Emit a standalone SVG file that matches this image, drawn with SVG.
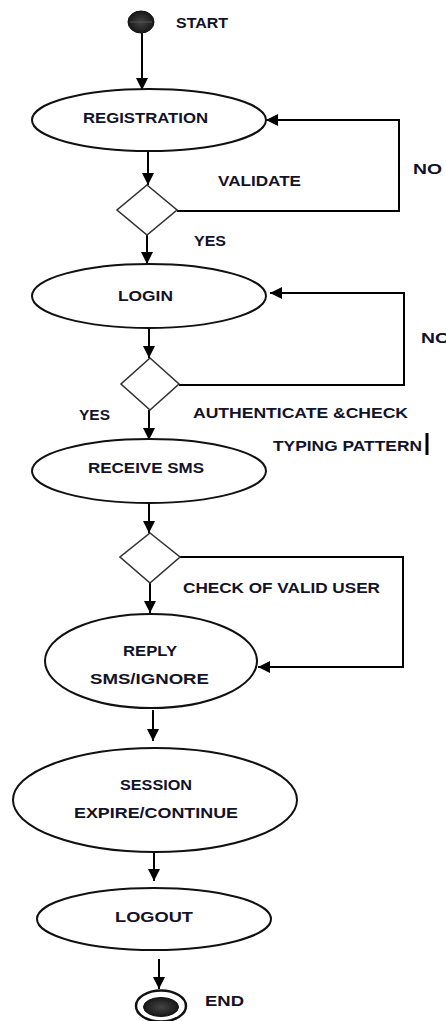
<svg xmlns="http://www.w3.org/2000/svg" width="446" height="1021" viewBox="0 0 446 1021">
<style>
  .node { fill: #ffffff; stroke: #111; stroke-width: 2; }
  .dec { fill: #ffffff; stroke: #333; stroke-width: 1.6; }
  .conn { fill: none; stroke: #000; stroke-width: 2; }
  .lbl { font-family: "Liberation Sans", Arial, sans-serif; font-weight: bold; font-size: 15.5px; fill: #121228; }
</style>
<defs>
  <marker id="arr" markerUnits="userSpaceOnUse" markerWidth="12" markerHeight="12" refX="12" refY="6" orient="auto">
    <path d="M0,0 L12,6 L0,12 z" fill="#000"/>
  </marker>
  <radialGradient id="startGrad" cx="50%" cy="50%" r="55%">
    <stop offset="0" stop-color="#444"/>
    <stop offset="0.7" stop-color="#222"/>
    <stop offset="1" stop-color="#111"/>
  </radialGradient>
</defs>
<rect width="446" height="1021" fill="#ffffff"/>

<g id="connectors">
  <line class="conn" x1="142" y1="33" x2="142" y2="90" marker-end="url(#arr)"/>
  <line class="conn" x1="148" y1="151" x2="148" y2="185" marker-end="url(#arr)"/>
  <polyline class="conn" points="177,211 399,211 399,120 266,120" marker-end="url(#arr)"/>
  <line class="conn" x1="147" y1="235" x2="147" y2="264" marker-end="url(#arr)"/>
  <polyline class="conn" points="179,385 404,385 404,293 270,293" marker-end="url(#arr)"/>
  <line class="conn" x1="149" y1="328" x2="149" y2="358" marker-end="url(#arr)"/>
  <line class="conn" x1="149" y1="410" x2="149" y2="440" marker-end="url(#arr)"/>
  <line class="conn" x1="149" y1="503" x2="149" y2="533" marker-end="url(#arr)"/>
  <polyline class="conn" points="180,557 403,557 403,667 258,667" marker-end="url(#arr)"/>
  <line class="conn" x1="150" y1="583" x2="150" y2="613" marker-end="url(#arr)"/>
  <line class="conn" x1="153" y1="710" x2="153" y2="741" marker-end="url(#arr)"/>
  <line class="conn" x1="154" y1="852" x2="154" y2="881" marker-end="url(#arr)"/>
  <line class="conn" x1="159" y1="959" x2="159" y2="989" marker-end="url(#arr)"/>
</g>

<g id="start">
  <ellipse cx="141" cy="22" rx="13" ry="11" fill="url(#startGrad)" stroke="#111" stroke-width="1"/>
  <line x1="130" y1="22" x2="152" y2="22" stroke="#555" stroke-width="1"/>
  <text class="lbl" x="176" y="28" textLength="52" lengthAdjust="spacingAndGlyphs">START</text>
</g>

<g id="registration">
  <ellipse class="node" cx="149" cy="120" rx="117" ry="31"/>
  <text class="lbl" x="83" y="123" textLength="125" lengthAdjust="spacingAndGlyphs">REGISTRATION</text>
</g>

<g id="validate">
  <polygon class="dec" points="147,185 177,210 147,235 117,210"/>
  <text class="lbl" x="218" y="186" textLength="83" lengthAdjust="spacingAndGlyphs">VALIDATE</text>
  <text class="lbl" x="413" y="174" textLength="29" lengthAdjust="spacingAndGlyphs">NO</text>
  <text class="lbl" x="194" y="246" textLength="32" lengthAdjust="spacingAndGlyphs">YES</text>
</g>

<g id="login">
  <ellipse class="node" cx="149" cy="296" rx="117" ry="32"/>
  <text class="lbl" x="118" y="301" textLength="55" lengthAdjust="spacingAndGlyphs">LOGIN</text>
</g>

<g id="authenticate">
  <polygon class="dec" points="150,358 179,384 150,410 121,384"/>
  <text class="lbl" x="421" y="343" textLength="29" lengthAdjust="spacingAndGlyphs">NO</text>
  <text class="lbl" x="79" y="420" textLength="31" lengthAdjust="spacingAndGlyphs">YES</text>
  <text class="lbl" x="193" y="418" textLength="215" lengthAdjust="spacingAndGlyphs">AUTHENTICATE &amp;CHECK</text>
  <text class="lbl" x="273" y="451" textLength="149" lengthAdjust="spacingAndGlyphs">TYPING PATTERN</text>
  <rect x="425.5" y="433" width="3" height="22" fill="#000"/>
</g>

<g id="receive-sms">
  <ellipse class="node" cx="149" cy="471" rx="117" ry="32"/>
  <text class="lbl" x="88" y="473" textLength="116" lengthAdjust="spacingAndGlyphs">RECEIVE SMS</text>
</g>

<g id="check-valid-user">
  <polygon class="dec" points="150,533 180,557 150,583 120,557"/>
  <text class="lbl" x="183" y="593" textLength="197" lengthAdjust="spacingAndGlyphs">CHECK OF VALID USER</text>
</g>

<g id="reply">
  <ellipse class="node" cx="151" cy="661" rx="106" ry="47"/>
  <text class="lbl" x="123" y="656" textLength="54" lengthAdjust="spacingAndGlyphs">REPLY</text>
  <text class="lbl" x="90" y="684" textLength="119" lengthAdjust="spacingAndGlyphs">SMS/IGNORE</text>
</g>

<g id="session">
  <ellipse class="node" cx="155" cy="800" rx="142" ry="52"/>
  <text class="lbl" x="120" y="790" textLength="72" lengthAdjust="spacingAndGlyphs">SESSION</text>
  <text class="lbl" x="74" y="818" textLength="164" lengthAdjust="spacingAndGlyphs">EXPIRE/CONTINUE</text>
</g>

<g id="logout">
  <ellipse class="node" cx="154" cy="919" rx="117" ry="31"/>
  <text class="lbl" x="115" y="922" textLength="78" lengthAdjust="spacingAndGlyphs">LOGOUT</text>
</g>

<g id="end">
  <ellipse cx="161" cy="1006" rx="25" ry="15.5" fill="#ffffff" stroke="#111" stroke-width="2.5"/>
  <ellipse cx="161" cy="1007" rx="17.5" ry="9.5" fill="url(#startGrad)" stroke="#111" stroke-width="1"/>
  <text class="lbl" x="205" y="1006" textLength="39" lengthAdjust="spacingAndGlyphs">END</text>
</g>
</svg>
